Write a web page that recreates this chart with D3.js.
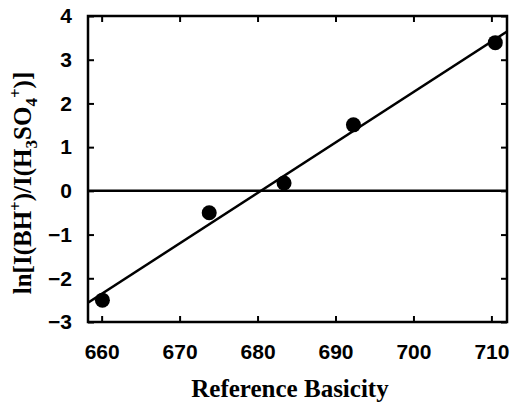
<!DOCTYPE html>
<html>
<head>
<meta charset="utf-8">
<script src="https://cdn.jsdelivr.net/npm/d3@7"></script>
<style>
  body { margin: 0; background: #fff; }
  svg { display: block; }
  .tick text { font-family: "Liberation Sans", Arial, sans-serif; font-weight: bold; font-size: 21px; fill: #000; }
  .axis-title { font-family: "Liberation Serif", "Times New Roman", serif; font-weight: bold; font-size: 25px; fill: #000; }
</style>
</head>
<body>
<div id="chart"></div>
<script>
// data
const basicity = [660.1, 673.8, 683.4, 692.3, 710.5]
const lnRatio = [-2.50, -0.50, 0.18, 1.51, 3.39]

const X_DOMAIN = [658.25, 712]
const Y_DOMAIN = [-3, 4]
const X_TICKS = [660, 670, 680, 690, 700, 710]
const Y_TICKS = [-3, -2, -1, 0, 1, 2, 3, 4]

const WIDTH = 511, HEIGHT = 404
const M = { top: 16, right: 4, bottom: 82, left: 88 }
const TICK = 6

const w = WIDTH - M.left - M.right
const h = HEIGHT - M.top - M.bottom

const svg = d3.select('#chart').append('svg')
    .attr('width', WIDTH)
    .attr('height', HEIGHT)

const g = svg.append('g')
    .attr('transform', `translate(${M.left},${M.top})`)

const x = d3.scaleLinear().domain(X_DOMAIN).range([0, w])
const y = d3.scaleLinear().domain(Y_DOMAIN).range([h, 0])

// least squares fit through the points
const mx = d3.mean(basicity), my = d3.mean(lnRatio)
const sxy = d3.sum(basicity, (d, i) => (d - mx) * (lnRatio[i] - my))
const sxx = d3.sum(basicity, (d) => (d - mx) * (d - mx))
const slope = sxy / sxx
const icpt = my - slope * mx

g.append('defs').append('clipPath').attr('id', 'clip')
  .append('rect').attr('width', w).attr('height', h)

// zero line
g.append('line')
    .attr('x1', 0).attr('x2', w)
    .attr('y1', y(0)).attr('y2', y(0))
    .attr('stroke', '#000').attr('stroke-width', 2.5)

// fit line
g.append('line')
    .attr('clip-path', 'url(#clip)')
    .attr('x1', x(X_DOMAIN[0])).attr('y1', y(slope * X_DOMAIN[0] + icpt))
    .attr('x2', x(X_DOMAIN[1])).attr('y2', y(slope * X_DOMAIN[1] + icpt))
    .attr('stroke', '#000').attr('stroke-width', 2.5)

// points
g.selectAll('.dot')
    .data(basicity)
  .enter().append('circle')
    .attr('class', 'dot')
    .attr('cx', (d) => x(d))
    .attr('cy', (d, i) => y(lnRatio[i]))
    .attr('r', 7.5)
    .attr('fill', '#000')

// axes, ticks pointing inward
const styleAxis = (sel) => {
  sel.select('.domain').remove()
  sel.selectAll('.tick line').attr('stroke', '#000').attr('stroke-width', 2)
}

g.append('g')
    .attr('transform', `translate(0,${h})`)
    .call(d3.axisBottom(x).tickValues(X_TICKS).tickSize(-TICK).tickPadding(22).tickFormat(d3.format('d')))
    .call(styleAxis)
    .call((s) => s.selectAll('.tick text').attr('dy', '0.71em'))

g.append('g')
    .call(d3.axisTop(x).tickValues(X_TICKS).tickSize(-TICK).tickFormat(''))
    .call(styleAxis)

g.append('g')
    .call(d3.axisLeft(y).tickValues(Y_TICKS).tickSize(-TICK).tickPadding(16).tickFormat(d3.format('d')))
    .call(styleAxis)

g.append('g')
    .attr('transform', `translate(${w},0)`)
    .call(d3.axisRight(y).tickValues(Y_TICKS).tickSize(-TICK).tickFormat(''))
    .call(styleAxis)

// frame
g.append('rect')
    .attr('width', w).attr('height', h)
    .attr('fill', 'none')
    .attr('stroke', '#000').attr('stroke-width', 2.5)

// titles
svg.append('text')
    .attr('class', 'axis-title')
    .attr('x', 290).attr('y', 397)
    .attr('text-anchor', 'middle')
    .text('Reference Basicity')

const yt = svg.append('text')
    .attr('class', 'axis-title')
    .attr('transform', 'translate(31,183) rotate(-90)')
    .attr('text-anchor', 'middle')

// [text, kind, dy]
const parts = [
  ['ln[I(BH', null, 0], ['+', 'sup', -10], [')/I(H', null, 10], ['3', 'sub', 6],
  ['SO', null, -6], ['4', 'sub', 6], ['+', 'sup', -16], [')]', null, 10]
]
parts.forEach(([t, k, dy]) => {
  const ts = yt.append('tspan').text(t).attr('dy', dy)
  if (k) ts.attr('font-size', '17px')
})
</script>
</body>
</html>
